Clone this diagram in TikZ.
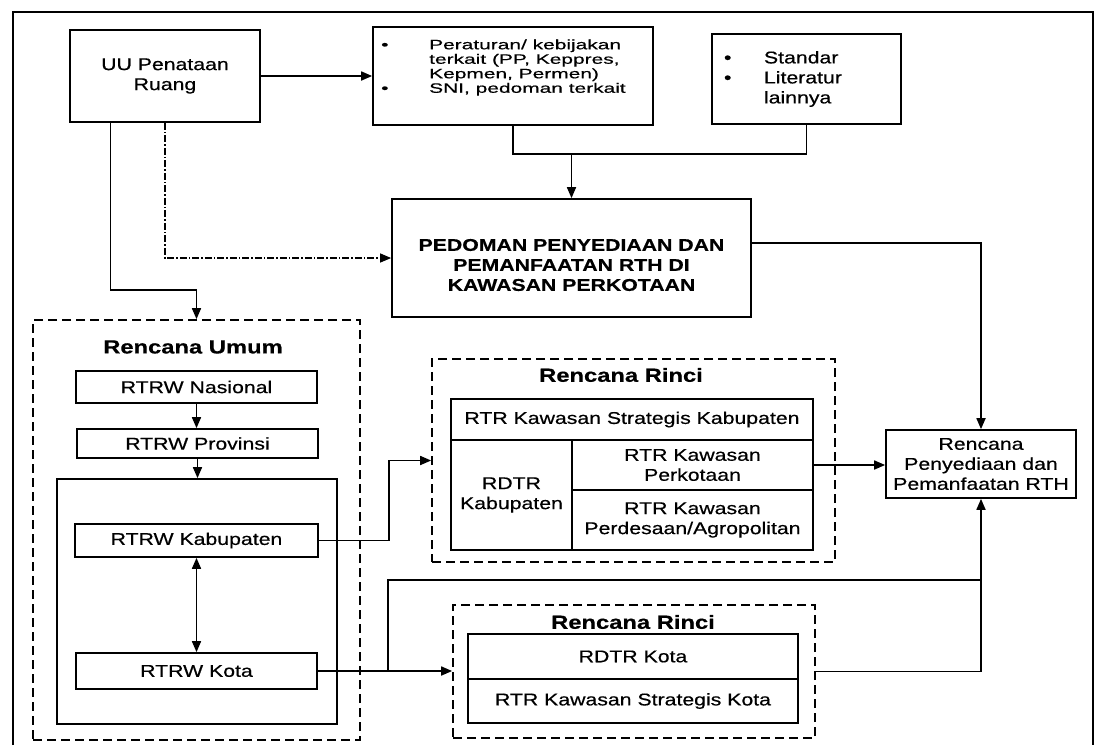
\documentclass[tikz,border=0pt]{standalone}
\usepackage{fontspec}
\setmainfont{Liberation Sans}[FakeStretch=1.25,FakeBold=0.5]
\newfontfamily\perfont{Liberation Sans}[FakeStretch=1.55,FakeBold=0.5]
\usetikzlibrary{arrows.meta,calc}
\newcommand\fsz{\fontsize{17}{20}\selectfont}
\newcommand\fttl{\fontsize{19}{22}\selectfont\bfseries}
\begin{document}
\begin{tikzpicture}[x=1pt,y=-1pt,
  box/.style={draw, line width=1.7pt, inner sep=0pt, align=center, font=\fsz},
  dbox/.style={draw, line width=1.7pt, dash pattern=on 9pt off 5pt, inner sep=0pt},
  ttl/.style={inner sep=0pt, font=\fttl},
  ln/.style={line width=1.7pt},
  arr/.style={line width=1.7pt, -{Triangle[length=11pt,width=9pt]}},
  dblarr/.style={line width=1.7pt, {Triangle[length=11pt,width=9pt]}-{Triangle[length=11pt,width=9pt]}},
  dashdot/.style={line width=1.2pt, dash pattern=on 7pt off 2pt on 1.5pt off 2pt}]
\useasboundingbox (0,0) rectangle (1095,745);
\fill[white] (0,0) rectangle (1095,745);

% outer frame (open at the bottom)
\draw[line width=1.7pt] (13,745) -- (13,12) -- (1093,12) -- (1093,745);

% top row
\node[box, minimum width=190pt, minimum height=92pt] (uu) at (165,76) {UU Penataan\\Ruang};
\node[box, minimum width=280pt, minimum height=98pt] (per) at (513,76) {};
\node[anchor=west, align=left, inner sep=0pt, font=\perfont\fontsize{13.5}{14.5}\selectfont] (pertxt) at (381,67.5)
  {\makebox[48pt][l]{•}Peraturan/ kebijakan\\\hspace*{48pt}terkait (PP, Keppres,\\\hspace*{48pt}Kepmen, Permen)\\\makebox[48pt][l]{•}SNI, pedoman terkait};
\node[box, minimum width=189pt, minimum height=90pt, text width=165pt, align=left] (std) at (806.5,79)
  {\makebox[40pt][l]{•}Standar\\\makebox[40pt][l]{•}Literatur\\\hspace*{40pt}lainnya};

\node[box, minimum width=359pt, minimum height=118pt] (ped) at (571.5,258) {};
\node[inner sep=0pt, align=center, font=\fsz\bfseries] (pedtxt) at (571.5,265)
  {PEDOMAN PENYEDIAAN DAN\\PEMANFAATAN RTH DI\\KAWASAN PERKOTAAN};

% Rencana Umum
\node[dbox, minimum width=327pt, minimum height=420pt] (rum) at (196.5,530) {};
\node[ttl] (rumt) at (193,347) {Rencana Umum};
\node[box, minimum width=241pt, minimum height=32pt] (nas) at (196.5,387) {RTRW Nasional};
\node[box, minimum width=241pt, minimum height=29pt] (prov) at (197.5,443.5) {RTRW Provinsi};
\node[draw, line width=1.7pt, inner sep=0pt, minimum width=280pt, minimum height=245pt] (inner) at (197,601.5) {};
\node[box, minimum width=243pt, minimum height=33pt] (kab) at (196.5,540.5) {RTRW Kabupaten};
\node[box, minimum width=241pt, minimum height=36pt] (kota) at (196.5,671) {RTRW Kota};

% Rencana Rinci (kabupaten)
\node[dbox, minimum width=403pt, minimum height=203pt] (rr1) at (633.5,460.5) {};
\node[ttl] (rr1t) at (621,375) {Rencana Rinci};
\node[box, minimum width=362pt, minimum height=41pt] (skab) at (632,419.5) {RTR Kawasan Strategis Kabupaten};
\node[box, minimum width=121pt, minimum height=110pt] (rdkab) at (511.5,495) {RDTR\\Kabupaten};
\node[box, minimum width=241pt, minimum height=50pt] (perkot) at (692.5,465) {RTR Kawasan\\Perkotaan};
\node[box, minimum width=241pt, minimum height=60pt] (perdes) at (692.5,520) {RTR Kawasan\\Perdesaan/Agropolitan};

% Rencana Rinci (kota)
\node[dbox, minimum width=362pt, minimum height=133pt] (rr2) at (634,671.5) {};
\node[ttl] (rr2t) at (633,622) {Rencana Rinci};
\node[box, minimum width=330pt, minimum height=45pt] (rdkota) at (633,656.5) {RDTR Kota};
\node[box, minimum width=330pt, minimum height=44pt] (skota) at (633,701) {RTR Kawasan Strategis Kota};

% result
\node[box, minimum width=190pt, minimum height=68pt] (rp) at (981,464) {Rencana\\Penyediaan dan\\Pemanfaatan RTH};

% connectors
\draw[arr] (uu.east) -- (per.west);
\draw[ln] (per.south) -- ++(0,28) -| (std.south);
\coordinate (jm) at (571.5,153);
\draw[arr] (jm) -- (ped.north);
\draw[arr, dashdot] (uu.south) |- (ped.west);
\coordinate (uuL) at ($(uu.south west)!0.216!(uu.south east)$);
\draw[arr] (uuL) |- ($(rum.north)+(0,-29)$) -- (rum.north);
\draw[arr] (nas.south) -- (nas.south |- prov.north);
\draw[arr] (prov.south) -- (prov.south |- inner.north);
\draw[dblarr] (kab.south) -- (kab.south |- kota.north);
\draw[arr] (kab.east) -- ++(70,0) |- (rr1.west);
\draw[arr] (perkot.east) -- (perkot.east -| rp.west);
\coordinate (pedout) at ($(ped.north east)!0.373!(ped.south east)$);
\draw[arr] (pedout) -| (rp.north);
\draw[arr] (kota.east) -- (kota.east -| rr2.west);
\coordinate (br) at (388,580);
\draw[arr] (kota.east -| br) |- (rp.south |- br) -- (rp.south);
\draw[ln] (rr2.east) -| (rp.south |- br);
\end{tikzpicture}
\end{document}
